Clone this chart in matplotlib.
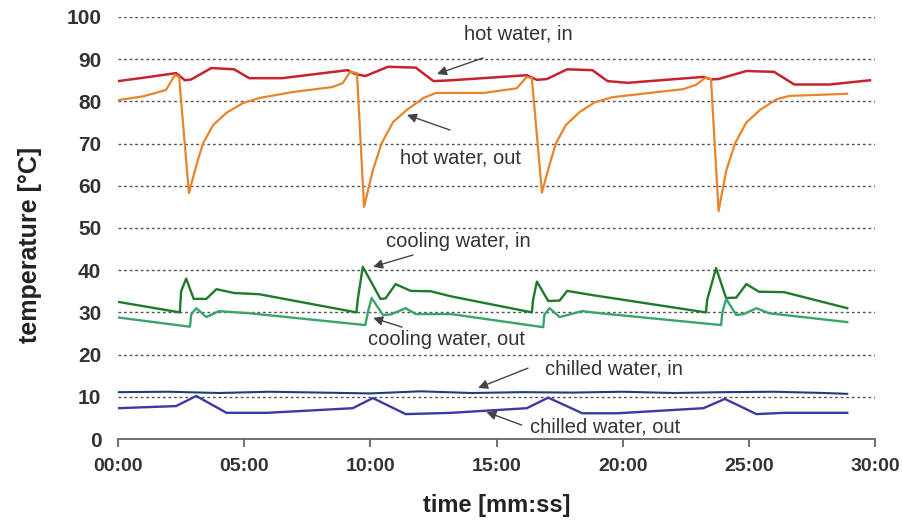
import matplotlib
matplotlib.use('Agg')
import matplotlib.pyplot as plt

# Zeit in Minuten, Temperaturen in °C
hot_in_t = [0, 1, 2.3, 2.45, 2.65, 2.9, 3.7, 4.6, 5.2, 6.5, 9.1, 9.4, 9.8, 10.7, 11.8, 12.5,
            13.2, 16.2, 16.6, 17.0, 17.8, 18.8, 19.4, 20.2, 23.2, 23.5, 23.8, 24.9, 26.0, 26.8,
            28.2, 29.8]
hot_in_v = [84.8, 85.6, 86.7, 86.0, 85.0, 85.2, 87.9, 87.6, 85.5, 85.5, 87.4, 86.5, 86.0, 88.2,
            88.0, 84.8, 85.0, 86.2, 85.1, 85.3, 87.6, 87.4, 84.8, 84.4, 85.8, 85.2, 85.3, 87.2,
            87.0, 84.0, 84.0, 85.0]

hot_out_t = [0, 1.0, 1.9, 2.26, 2.42, 2.81, 3.13, 3.37, 3.77, 4.3, 4.95, 5.6, 6.9, 8.5, 8.9,
             9.2, 9.47, 9.75, 10.1, 10.45, 10.9, 11.45, 12.1, 12.6, 14.5, 15.8, 16.2, 16.4, 16.8,
             17.1, 17.35, 17.75, 18.3, 18.9, 19.6, 22.4, 22.9, 23.3, 23.5, 23.8, 24.1, 24.45,
             24.9, 25.45, 26.1, 26.6, 28.9]
hot_out_v = [80.3, 81.2, 82.7, 86.3, 85.8, 58.3, 65.4, 70.1, 74.4, 77.3, 79.6, 80.8, 82.2, 83.4,
             84.3, 87.0, 86.7, 55.0, 63.7, 70.1, 75.1, 78.0, 80.8, 82.0, 82.0, 83.1, 85.8, 85.5,
             58.4, 65.0, 70.0, 74.4, 77.5, 79.8, 81.0, 82.9, 83.9, 85.7, 85.3, 54.0, 63.5, 70.0,
             75.0, 78.0, 80.5, 81.3, 81.8]

cool_in_t = [0, 2.45, 2.5, 2.7, 3.0, 3.5, 3.9, 4.6, 5.6, 9.45, 9.5, 9.7, 10.4, 10.6, 11.0, 11.6,
             12.4, 13.2, 16.4, 16.45, 16.6, 17.05, 17.5, 17.8, 18.8, 23.3, 23.35, 23.7, 24.1,
             24.5, 24.9, 25.4, 26.4, 28.9]
cool_in_v = [32.5, 30.0, 35.0, 38.0, 33.2, 33.2, 35.5, 34.6, 34.3, 30.0, 33.0, 40.8, 33.2, 33.3,
             36.7, 35.1, 35.0, 33.8, 30.0, 33.0, 37.3, 32.7, 32.8, 35.1, 34.1, 30.0, 33.0, 40.5,
             33.4, 33.5, 36.7, 34.9, 34.8, 31.0]

cool_out_t = [0, 2.85, 2.9, 3.1, 3.5, 4.0, 5.2, 9.8, 9.9, 10.05, 10.5, 10.8, 11.4, 11.8, 13.2,
              16.85, 16.9, 17.1, 17.5, 18.4, 19.1, 23.9, 23.95, 24.1, 24.5, 24.8, 25.3, 25.8, 28.9]
cool_out_v = [28.8, 26.6, 29.5, 31.0, 28.9, 30.3, 29.8, 27.0, 30.0, 33.4, 29.4, 29.5, 31.0, 29.6,
              29.6, 26.5, 29.5, 31.0, 28.9, 30.3, 29.8, 27.0, 30.0, 33.2, 29.4, 29.6, 31.0, 29.8,
              27.7]

chill_in_t = [0, 2, 4, 6, 8, 10, 12, 14, 16, 18, 20, 22, 24, 26, 28, 28.9]
chill_in_v = [11.1, 11.2, 10.9, 11.2, 11.0, 10.8, 11.3, 10.9, 11.1, 11.0, 11.2, 10.9, 11.1, 11.2,
              10.9, 10.7]

chill_out_t = [0, 2.3, 3.1, 4.3, 5.9, 9.3, 10.1, 11.4, 13.2, 16.2, 17.05, 18.4, 19.8, 23.2,
               24.05, 25.3, 26.4, 28.9]
chill_out_v = [7.3, 7.8, 10.2, 6.2, 6.2, 7.3, 9.7, 5.9, 6.2, 7.3, 9.8, 6.1, 6.1, 7.3, 9.5, 5.9,
               6.2, 6.2]

x_ticks = [0, 5, 10, 15, 20, 25, 30]
x_labels = ['00:00', '05:00', '10:00', '15:00', '20:00', '25:00', '30:00']
y_ticks = [0, 10, 20, 30, 40, 50, 60, 70, 80, 90, 100]

plt.rcParams['font.family'] = ['Liberation Sans', 'DejaVu Sans']

fig = plt.figure(figsize=(9.03, 5.24), dpi=100)
ax = fig.add_axes([0.1307, 0.1622, 0.8383, 0.8054])

# Gitterlinien (gepunktet)
for y in y_ticks[1:]:
    ax.axhline(y, color='#555555', linestyle=(0, (2, 2)), linewidth=1.0, zorder=1)

ax.plot(hot_in_t, hot_in_v, color='#c4242f', linewidth=1.8, zorder=3)
ax.plot(hot_out_t, hot_out_v, color='#e8842c', linewidth=1.6, zorder=3)
ax.plot(cool_in_t, cool_in_v, color='#1f7a2d', linewidth=1.7, zorder=3)
ax.plot(cool_out_t, cool_out_v, color='#3aa46c', linewidth=1.7, zorder=3)
ax.plot(chill_in_t, chill_in_v, color='#1e3f74', linewidth=1.5, zorder=3)
ax.plot(chill_out_t, chill_out_v, color='#3d3aa2', linewidth=1.7, zorder=3)

ax.set_xlim(0, 30)
ax.set_ylim(0, 100)

for side in ['top', 'right', 'left']:
    ax.spines[side].set_visible(False)
ax.spines['bottom'].set_color('#666666')
ax.spines['bottom'].set_linewidth(1.3)

ax.set_xticks(x_ticks)
ax.set_xticklabels(x_labels)
ax.set_yticks(y_ticks)
ax.tick_params(axis='x', direction='out', length=6, width=1.3, color='#666666',
               labelsize=14, labelcolor='#333333', pad=8)
ax.tick_params(axis='y', length=0, labelsize=15, labelcolor='#333333', pad=12)
for lab in ax.get_xticklabels() + ax.get_yticklabels():
    lab.set_fontweight('bold')

ax.set_xlabel('time [mm:ss]', fontsize=17, fontweight='bold', color='#222222', labelpad=13)
ax.set_ylabel('temperature [°C]', fontsize=18, fontweight='bold', color='#222222')
ax.yaxis.set_label_coords(-0.100, 0.46)

# Beschriftungen mit Pfeilen
beschriftungen = [
    ('hot water, in', (15.85, 96.0), (14.47, 90.3), (12.64, 86.5)),
    ('hot water, out', (13.56, 66.6), (13.16, 73.2), (11.45, 76.8)),
    ('cooling water, in', (13.48, 46.9), (11.69, 43.6), (10.11, 40.8)),
    ('cooling water, out', (13.0, 23.5), (11.26, 26.5), (10.11, 28.7)),
    ('chilled water, in', (19.66, 16.6), (16.25, 16.8), (14.27, 12.1)),
    ('chilled water, out', (19.3, 2.8), (16.0, 3.3), (14.6, 6.4)),
]
for text, pos, tail, head in beschriftungen:
    ax.text(pos[0], pos[1], text, fontsize=14.5, color='#333333', ha='center', va='center',
            zorder=5)
    ax.annotate('', xy=head, xytext=tail,
                arrowprops=dict(arrowstyle='-|>', color='#444444', lw=1.0,
                                mutation_scale=14, shrinkA=0, shrinkB=0), zorder=5)

fig.savefig('out.png', dpi=100)
plt.close(fig)
